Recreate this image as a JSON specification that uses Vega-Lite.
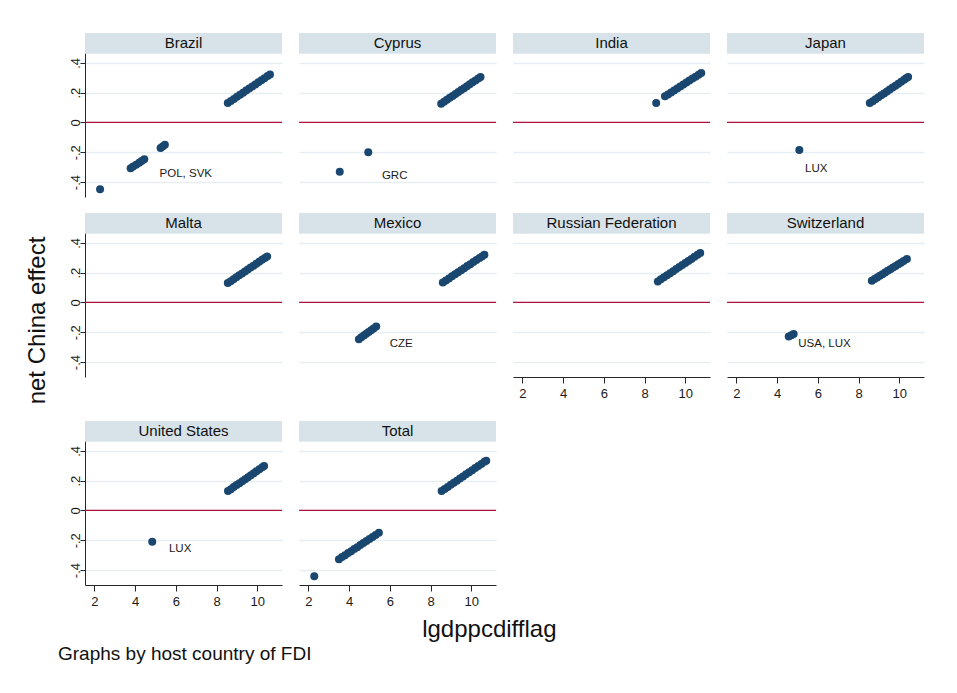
{
  "$schema": "https://vega.github.io/schema/vega-lite/v6.json",
  "background": "white",
  "padding": {"left": 25, "top": 33, "right": 5, "bottom": 5},
  "autosize": {"type": "pad"},
  "config": {
    "font": "Liberation Sans",
    "view": {"stroke": null},
    "concat": {"spacing": 15},
    "axis": {"labelFont": "Liberation Sans", "labelFontSize": 13, "labelColor": "#1a1a1a", "domainColor": "#262626", "tickColor": "#262626", "tickSize": 5},
    "axisX": {"tickSize": 6, "labelPadding": 4},
    "axisY": {"gridColor": "#e6eef1", "gridWidth": 1.5, "labelPadding": 1, "labelBaseline": "alphabetic"}
  },
  "title": {"text": "Graphs by host country of FDI", "orient": "bottom", "anchor": "start", "fontSize": 19, "font": "Liberation Sans", "fontWeight": "normal", "color": "#111111", "offset": 3, "dx": 32},
  "data": {"values": [
    {"c":"Brazil","k":"p","x":2.28,"y":-0.448},{"c":"Brazil","k":"p","x":3.78,"y":-0.307},{"c":"Brazil","k":"p","x":3.9,"y":-0.296},{"c":"Brazil","k":"p","x":4.05,"y":-0.283},{"c":"Brazil","k":"p","x":4.2,"y":-0.27},{"c":"Brazil","k":"p","x":4.32,"y":-0.258},{"c":"Brazil","k":"p","x":4.45,"y":-0.246},{"c":"Brazil","k":"p","x":5.25,"y":-0.172},{"c":"Brazil","k":"p","x":5.35,"y":-0.161},{"c":"Brazil","k":"p","x":5.46,"y":-0.15},
    {"c":"Brazil","k":"p","x":8.55,"y":0.13},{"c":"Brazil","k":"p","x":8.7,"y":0.144},{"c":"Brazil","k":"p","x":8.85,"y":0.158},{"c":"Brazil","k":"p","x":9.0,"y":0.172},{"c":"Brazil","k":"p","x":9.15,"y":0.186},{"c":"Brazil","k":"p","x":9.3,"y":0.2},{"c":"Brazil","k":"p","x":9.45,"y":0.214},{"c":"Brazil","k":"p","x":9.6,"y":0.228},{"c":"Brazil","k":"p","x":9.75,"y":0.241},{"c":"Brazil","k":"p","x":9.9,"y":0.255},{"c":"Brazil","k":"p","x":10.05,"y":0.269},{"c":"Brazil","k":"p","x":10.2,"y":0.283},{"c":"Brazil","k":"p","x":10.35,"y":0.297},{"c":"Brazil","k":"p","x":10.5,"y":0.311},{"c":"Brazil","k":"p","x":10.62,"y":0.322},
    {"c":"Brazil","k":"l","x":5.2,"y":-0.345,"t":"POL, SVK"},
    {"c":"Cyprus","k":"p","x":3.54,"y":-0.331},{"c":"Cyprus","k":"p","x":4.94,"y":-0.2},
    {"c":"Cyprus","k":"p","x":8.52,"y":0.126},{"c":"Cyprus","k":"p","x":8.66,"y":0.139},{"c":"Cyprus","k":"p","x":8.8,"y":0.152},{"c":"Cyprus","k":"p","x":8.94,"y":0.165},{"c":"Cyprus","k":"p","x":9.08,"y":0.178},{"c":"Cyprus","k":"p","x":9.22,"y":0.191},{"c":"Cyprus","k":"p","x":9.36,"y":0.204},{"c":"Cyprus","k":"p","x":9.5,"y":0.217},{"c":"Cyprus","k":"p","x":9.64,"y":0.23},{"c":"Cyprus","k":"p","x":9.78,"y":0.243},{"c":"Cyprus","k":"p","x":9.92,"y":0.256},{"c":"Cyprus","k":"p","x":10.06,"y":0.269},{"c":"Cyprus","k":"p","x":10.2,"y":0.282},{"c":"Cyprus","k":"p","x":10.34,"y":0.295},{"c":"Cyprus","k":"p","x":10.45,"y":0.305},
    {"c":"Cyprus","k":"l","x":5.61,"y":-0.36,"t":"GRC"},
    {"c":"India","k":"p","x":8.57,"y":0.13},
    {"c":"India","k":"p","x":9.0,"y":0.175},{"c":"India","k":"p","x":9.15,"y":0.188},{"c":"India","k":"p","x":9.3,"y":0.201},{"c":"India","k":"p","x":9.45,"y":0.215},{"c":"India","k":"p","x":9.6,"y":0.228},{"c":"India","k":"p","x":9.75,"y":0.241},{"c":"India","k":"p","x":9.9,"y":0.254},{"c":"India","k":"p","x":10.05,"y":0.268},{"c":"India","k":"p","x":10.2,"y":0.281},{"c":"India","k":"p","x":10.35,"y":0.294},{"c":"India","k":"p","x":10.5,"y":0.307},{"c":"India","k":"p","x":10.65,"y":0.32},{"c":"India","k":"p","x":10.78,"y":0.332},
    {"c":"Japan","k":"p","x":5.09,"y":-0.184},
    {"c":"Japan","k":"p","x":8.55,"y":0.13},{"c":"Japan","k":"p","x":8.69,"y":0.143},{"c":"Japan","k":"p","x":8.83,"y":0.156},{"c":"Japan","k":"p","x":8.97,"y":0.169},{"c":"Japan","k":"p","x":9.11,"y":0.182},{"c":"Japan","k":"p","x":9.25,"y":0.195},{"c":"Japan","k":"p","x":9.39,"y":0.208},{"c":"Japan","k":"p","x":9.53,"y":0.221},{"c":"Japan","k":"p","x":9.67,"y":0.234},{"c":"Japan","k":"p","x":9.81,"y":0.247},{"c":"Japan","k":"p","x":9.95,"y":0.26},{"c":"Japan","k":"p","x":10.09,"y":0.273},{"c":"Japan","k":"p","x":10.23,"y":0.286},{"c":"Japan","k":"p","x":10.33,"y":0.296},{"c":"Japan","k":"p","x":10.43,"y":0.305},
    {"c":"Japan","k":"l","x":5.37,"y":-0.311,"t":"LUX"},
    {"c":"Malta","k":"p","x":8.55,"y":0.13},{"c":"Malta","k":"p","x":8.69,"y":0.143},{"c":"Malta","k":"p","x":8.83,"y":0.156},{"c":"Malta","k":"p","x":8.97,"y":0.169},{"c":"Malta","k":"p","x":9.11,"y":0.182},{"c":"Malta","k":"p","x":9.25,"y":0.195},{"c":"Malta","k":"p","x":9.39,"y":0.208},{"c":"Malta","k":"p","x":9.53,"y":0.221},{"c":"Malta","k":"p","x":9.67,"y":0.234},{"c":"Malta","k":"p","x":9.81,"y":0.247},{"c":"Malta","k":"p","x":9.95,"y":0.26},{"c":"Malta","k":"p","x":10.09,"y":0.273},{"c":"Malta","k":"p","x":10.23,"y":0.286},{"c":"Malta","k":"p","x":10.37,"y":0.299},{"c":"Malta","k":"p","x":10.48,"y":0.309},
    {"c":"Mexico","k":"p","x":4.48,"y":-0.246},{"c":"Mexico","k":"p","x":4.6,"y":-0.234},{"c":"Mexico","k":"p","x":4.72,"y":-0.222},{"c":"Mexico","k":"p","x":4.84,"y":-0.21},{"c":"Mexico","k":"p","x":4.96,"y":-0.198},{"c":"Mexico","k":"p","x":5.08,"y":-0.186},{"c":"Mexico","k":"p","x":5.2,"y":-0.174},{"c":"Mexico","k":"p","x":5.33,"y":-0.161},
    {"c":"Mexico","k":"p","x":8.6,"y":0.134},{"c":"Mexico","k":"p","x":8.75,"y":0.148},{"c":"Mexico","k":"p","x":8.9,"y":0.161},{"c":"Mexico","k":"p","x":9.05,"y":0.175},{"c":"Mexico","k":"p","x":9.2,"y":0.189},{"c":"Mexico","k":"p","x":9.35,"y":0.203},{"c":"Mexico","k":"p","x":9.5,"y":0.216},{"c":"Mexico","k":"p","x":9.65,"y":0.23},{"c":"Mexico","k":"p","x":9.8,"y":0.244},{"c":"Mexico","k":"p","x":9.95,"y":0.257},{"c":"Mexico","k":"p","x":10.1,"y":0.271},{"c":"Mexico","k":"p","x":10.25,"y":0.284},{"c":"Mexico","k":"p","x":10.4,"y":0.298},{"c":"Mexico","k":"p","x":10.52,"y":0.309},{"c":"Mexico","k":"p","x":10.64,"y":0.32},
    {"c":"Mexico","k":"l","x":5.99,"y":-0.278,"t":"CZE"},
    {"c":"Russian Federation","k":"p","x":8.65,"y":0.141},{"c":"Russian Federation","k":"p","x":8.8,"y":0.155},{"c":"Russian Federation","k":"p","x":8.95,"y":0.169},{"c":"Russian Federation","k":"p","x":9.1,"y":0.182},{"c":"Russian Federation","k":"p","x":9.25,"y":0.196},{"c":"Russian Federation","k":"p","x":9.4,"y":0.21},{"c":"Russian Federation","k":"p","x":9.55,"y":0.224},{"c":"Russian Federation","k":"p","x":9.7,"y":0.237},{"c":"Russian Federation","k":"p","x":9.85,"y":0.251},{"c":"Russian Federation","k":"p","x":10.0,"y":0.265},{"c":"Russian Federation","k":"p","x":10.15,"y":0.278},{"c":"Russian Federation","k":"p","x":10.3,"y":0.292},{"c":"Russian Federation","k":"p","x":10.45,"y":0.306},{"c":"Russian Federation","k":"p","x":10.6,"y":0.32},{"c":"Russian Federation","k":"p","x":10.73,"y":0.332},
    {"c":"Switzerland","k":"p","x":4.57,"y":-0.229},{"c":"Switzerland","k":"p","x":4.7,"y":-0.22},{"c":"Switzerland","k":"p","x":4.81,"y":-0.211},
    {"c":"Switzerland","k":"p","x":8.65,"y":0.146},{"c":"Switzerland","k":"p","x":8.78,"y":0.157},{"c":"Switzerland","k":"p","x":8.91,"y":0.168},{"c":"Switzerland","k":"p","x":9.04,"y":0.179},{"c":"Switzerland","k":"p","x":9.17,"y":0.19},{"c":"Switzerland","k":"p","x":9.3,"y":0.201},{"c":"Switzerland","k":"p","x":9.43,"y":0.212},{"c":"Switzerland","k":"p","x":9.56,"y":0.223},{"c":"Switzerland","k":"p","x":9.69,"y":0.234},{"c":"Switzerland","k":"p","x":9.82,"y":0.245},{"c":"Switzerland","k":"p","x":9.95,"y":0.256},{"c":"Switzerland","k":"p","x":10.08,"y":0.267},{"c":"Switzerland","k":"p","x":10.21,"y":0.278},{"c":"Switzerland","k":"p","x":10.37,"y":0.292},
    {"c":"Switzerland","k":"l","x":5.04,"y":-0.28,"t":"USA, LUX"},
    {"c":"United States","k":"p","x":4.84,"y":-0.21},
    {"c":"United States","k":"p","x":8.56,"y":0.13},{"c":"United States","k":"p","x":8.7,"y":0.143},{"c":"United States","k":"p","x":8.84,"y":0.157},{"c":"United States","k":"p","x":8.98,"y":0.17},{"c":"United States","k":"p","x":9.12,"y":0.183},{"c":"United States","k":"p","x":9.26,"y":0.196},{"c":"United States","k":"p","x":9.4,"y":0.21},{"c":"United States","k":"p","x":9.54,"y":0.223},{"c":"United States","k":"p","x":9.68,"y":0.236},{"c":"United States","k":"p","x":9.82,"y":0.25},{"c":"United States","k":"p","x":9.96,"y":0.263},{"c":"United States","k":"p","x":10.1,"y":0.276},{"c":"United States","k":"p","x":10.24,"y":0.289},{"c":"United States","k":"p","x":10.33,"y":0.298},
    {"c":"United States","k":"l","x":5.66,"y":-0.26,"t":"LUX"},
    {"c":"Total","k":"p","x":2.29,"y":-0.441},
    {"c":"Total","k":"p","x":3.5,"y":-0.327},{"c":"Total","k":"p","x":3.65,"y":-0.313},{"c":"Total","k":"p","x":3.8,"y":-0.3},{"c":"Total","k":"p","x":3.95,"y":-0.286},{"c":"Total","k":"p","x":4.1,"y":-0.273},{"c":"Total","k":"p","x":4.25,"y":-0.259},{"c":"Total","k":"p","x":4.4,"y":-0.246},{"c":"Total","k":"p","x":4.55,"y":-0.232},{"c":"Total","k":"p","x":4.7,"y":-0.218},{"c":"Total","k":"p","x":4.85,"y":-0.205},{"c":"Total","k":"p","x":5.0,"y":-0.191},{"c":"Total","k":"p","x":5.15,"y":-0.178},{"c":"Total","k":"p","x":5.3,"y":-0.164},{"c":"Total","k":"p","x":5.46,"y":-0.15},
    {"c":"Total","k":"p","x":8.54,"y":0.13},{"c":"Total","k":"p","x":8.69,"y":0.144},{"c":"Total","k":"p","x":8.84,"y":0.158},{"c":"Total","k":"p","x":8.99,"y":0.172},{"c":"Total","k":"p","x":9.14,"y":0.186},{"c":"Total","k":"p","x":9.29,"y":0.2},{"c":"Total","k":"p","x":9.44,"y":0.214},{"c":"Total","k":"p","x":9.59,"y":0.228},{"c":"Total","k":"p","x":9.74,"y":0.242},{"c":"Total","k":"p","x":9.89,"y":0.256},{"c":"Total","k":"p","x":10.04,"y":0.27},{"c":"Total","k":"p","x":10.19,"y":0.284},{"c":"Total","k":"p","x":10.34,"y":0.298},{"c":"Total","k":"p","x":10.49,"y":0.312},{"c":"Total","k":"p","x":10.64,"y":0.326},{"c":"Total","k":"p","x":10.73,"y":0.334}
  ]},
  "vconcat": [{
    "title": {"text": "lgdppcdifflag", "orient": "bottom", "anchor": "middle", "fontSize": 24, "font": "Liberation Sans", "fontWeight": "normal", "color": "#111111", "offset": 10, "dx": 14},
    "vconcat": [{
      "title": {"text": "net China effect", "orient": "left", "anchor": "middle", "fontSize": 24, "font": "Liberation Sans", "fontWeight": "normal", "color": "#111111", "offset": 19},
      "spacing": 21,
      "vconcat": [
        {"spacing": 16, "vconcat": [
        {"spacing": 15, "hconcat": [
          {"width": 197, "height": 164, "transform": [{"filter": "datum.c == 'Brazil'"}],
           "layer": [
             {"transform": [{"aggregate": [{"op": "count", "as": "n"}], "groupby": ["c"]}], "mark": {"type": "rect", "fill": "#d7e3e9"}, "encoding": {"x": {"datum": 1.54, "type": "quantitative"}, "x2": {"datum": 11.21}, "y": {"datum": 0.46, "type": "quantitative"}, "y2": {"datum": 0.6}}},
             {"transform": [{"aggregate": [{"op": "count", "as": "n"}], "groupby": ["c"]}], "mark": {"type": "text", "fontSize": 15, "color": "#111111", "align": "center", "baseline": "middle"}, "encoding": {"x": {"datum": 6.375, "type": "quantitative"}, "y": {"datum": 0.53, "type": "quantitative"}, "text": {"field": "c", "type": "nominal"}}},
             {"transform": [{"aggregate": [{"op": "count", "as": "n"}], "groupby": ["c"]}], "mark": {"type": "rule", "color": "#b0123c", "strokeWidth": 1.3}, "encoding": {"y": {"datum": 0, "type": "quantitative"}}},
             {"transform": [{"filter": "datum.k == 'p'"}], "mark": {"type": "point", "filled": true, "opacity": 1, "size": 64, "color": "#1a476f"},
              "encoding": {
                "x": {"field": "x", "type": "quantitative", "scale": {"domain": [1.54, 11.21], "nice": false, "zero": false}, "axis": {"values": [2, 4, 6, 8, 10], "grid": false, "title": null, "labels": false, "ticks": false, "domain": false}},
                "y": {"field": "y", "type": "quantitative", "scale": {"domain": [-0.5, 0.6], "nice": false, "zero": false}, "axis": {"values": [-0.4, -0.2, 0, 0.2, 0.4], "grid": true, "title": null, "labelAngle": -90, "labelExpr": "datum.value == 0 ? '0' : (datum.value < 0 ? '-.' : '.') + round(abs(datum.value) * 10)"}}}},
             {"transform": [{"filter": "datum.k == 'l'"}], "mark": {"type": "text", "fontSize": 11.5, "color": "#1a1a1a", "align": "left", "baseline": "middle"}, "encoding": {"x": {"field": "x", "type": "quantitative"}, "y": {"field": "y", "type": "quantitative"}, "text": {"field": "t", "type": "nominal"}}}
           ]},
          {"width": 197, "height": 164, "transform": [{"filter": "datum.c == 'Cyprus'"}],
           "layer": [
             {"transform": [{"aggregate": [{"op": "count", "as": "n"}], "groupby": ["c"]}], "mark": {"type": "rect", "fill": "#d7e3e9"}, "encoding": {"x": {"datum": 1.54, "type": "quantitative"}, "x2": {"datum": 11.21}, "y": {"datum": 0.46, "type": "quantitative"}, "y2": {"datum": 0.6}}},
             {"transform": [{"aggregate": [{"op": "count", "as": "n"}], "groupby": ["c"]}], "mark": {"type": "text", "fontSize": 15, "color": "#111111", "align": "center", "baseline": "middle"}, "encoding": {"x": {"datum": 6.375, "type": "quantitative"}, "y": {"datum": 0.53, "type": "quantitative"}, "text": {"field": "c", "type": "nominal"}}},
             {"transform": [{"aggregate": [{"op": "count", "as": "n"}], "groupby": ["c"]}], "mark": {"type": "rule", "color": "#b0123c", "strokeWidth": 1.3}, "encoding": {"y": {"datum": 0, "type": "quantitative"}}},
             {"transform": [{"filter": "datum.k == 'p'"}], "mark": {"type": "point", "filled": true, "opacity": 1, "size": 64, "color": "#1a476f"},
              "encoding": {
                "x": {"field": "x", "type": "quantitative", "scale": {"domain": [1.54, 11.21], "nice": false, "zero": false}, "axis": {"values": [2, 4, 6, 8, 10], "grid": false, "title": null, "labels": false, "ticks": false, "domain": false}},
                "y": {"field": "y", "type": "quantitative", "scale": {"domain": [-0.5, 0.6], "nice": false, "zero": false}, "axis": {"values": [-0.4, -0.2, 0, 0.2, 0.4], "grid": true, "title": null, "labels": false, "ticks": false, "domain": false}}}},
             {"transform": [{"filter": "datum.k == 'l'"}], "mark": {"type": "text", "fontSize": 11.5, "color": "#1a1a1a", "align": "left", "baseline": "middle"}, "encoding": {"x": {"field": "x", "type": "quantitative"}, "y": {"field": "y", "type": "quantitative"}, "text": {"field": "t", "type": "nominal"}}}
           ]},
          {"width": 197, "height": 164, "transform": [{"filter": "datum.c == 'India'"}],
           "layer": [
             {"transform": [{"aggregate": [{"op": "count", "as": "n"}], "groupby": ["c"]}], "mark": {"type": "rect", "fill": "#d7e3e9"}, "encoding": {"x": {"datum": 1.54, "type": "quantitative"}, "x2": {"datum": 11.21}, "y": {"datum": 0.46, "type": "quantitative"}, "y2": {"datum": 0.6}}},
             {"transform": [{"aggregate": [{"op": "count", "as": "n"}], "groupby": ["c"]}], "mark": {"type": "text", "fontSize": 15, "color": "#111111", "align": "center", "baseline": "middle"}, "encoding": {"x": {"datum": 6.375, "type": "quantitative"}, "y": {"datum": 0.53, "type": "quantitative"}, "text": {"field": "c", "type": "nominal"}}},
             {"transform": [{"aggregate": [{"op": "count", "as": "n"}], "groupby": ["c"]}], "mark": {"type": "rule", "color": "#b0123c", "strokeWidth": 1.3}, "encoding": {"y": {"datum": 0, "type": "quantitative"}}},
             {"transform": [{"filter": "datum.k == 'p'"}], "mark": {"type": "point", "filled": true, "opacity": 1, "size": 64, "color": "#1a476f"},
              "encoding": {
                "x": {"field": "x", "type": "quantitative", "scale": {"domain": [1.54, 11.21], "nice": false, "zero": false}, "axis": {"values": [2, 4, 6, 8, 10], "grid": false, "title": null, "labels": false, "ticks": false, "domain": false}},
                "y": {"field": "y", "type": "quantitative", "scale": {"domain": [-0.5, 0.6], "nice": false, "zero": false}, "axis": {"values": [-0.4, -0.2, 0, 0.2, 0.4], "grid": true, "title": null, "labels": false, "ticks": false, "domain": false}}}},
             {"transform": [{"filter": "datum.k == 'l'"}], "mark": {"type": "text", "fontSize": 11.5, "color": "#1a1a1a", "align": "left", "baseline": "middle"}, "encoding": {"x": {"field": "x", "type": "quantitative"}, "y": {"field": "y", "type": "quantitative"}, "text": {"field": "t", "type": "nominal"}}}
           ]},
          {"width": 197, "height": 164, "transform": [{"filter": "datum.c == 'Japan'"}],
           "layer": [
             {"transform": [{"aggregate": [{"op": "count", "as": "n"}], "groupby": ["c"]}], "mark": {"type": "rect", "fill": "#d7e3e9"}, "encoding": {"x": {"datum": 1.54, "type": "quantitative"}, "x2": {"datum": 11.21}, "y": {"datum": 0.46, "type": "quantitative"}, "y2": {"datum": 0.6}}},
             {"transform": [{"aggregate": [{"op": "count", "as": "n"}], "groupby": ["c"]}], "mark": {"type": "text", "fontSize": 15, "color": "#111111", "align": "center", "baseline": "middle"}, "encoding": {"x": {"datum": 6.375, "type": "quantitative"}, "y": {"datum": 0.53, "type": "quantitative"}, "text": {"field": "c", "type": "nominal"}}},
             {"transform": [{"aggregate": [{"op": "count", "as": "n"}], "groupby": ["c"]}], "mark": {"type": "rule", "color": "#b0123c", "strokeWidth": 1.3}, "encoding": {"y": {"datum": 0, "type": "quantitative"}}},
             {"transform": [{"filter": "datum.k == 'p'"}], "mark": {"type": "point", "filled": true, "opacity": 1, "size": 64, "color": "#1a476f"},
              "encoding": {
                "x": {"field": "x", "type": "quantitative", "scale": {"domain": [1.54, 11.21], "nice": false, "zero": false}, "axis": {"values": [2, 4, 6, 8, 10], "grid": false, "title": null, "labels": false, "ticks": false, "domain": false}},
                "y": {"field": "y", "type": "quantitative", "scale": {"domain": [-0.5, 0.6], "nice": false, "zero": false}, "axis": {"values": [-0.4, -0.2, 0, 0.2, 0.4], "grid": true, "title": null, "labels": false, "ticks": false, "domain": false}}}},
             {"transform": [{"filter": "datum.k == 'l'"}], "mark": {"type": "text", "fontSize": 11.5, "color": "#1a1a1a", "align": "left", "baseline": "middle"}, "encoding": {"x": {"field": "x", "type": "quantitative"}, "y": {"field": "y", "type": "quantitative"}, "text": {"field": "t", "type": "nominal"}}}
           ]}
        ]},
        {"spacing": 15, "hconcat": [
          {"width": 197, "height": 164, "transform": [{"filter": "datum.c == 'Malta'"}],
           "layer": [
             {"transform": [{"aggregate": [{"op": "count", "as": "n"}], "groupby": ["c"]}], "mark": {"type": "rect", "fill": "#d7e3e9"}, "encoding": {"x": {"datum": 1.54, "type": "quantitative"}, "x2": {"datum": 11.21}, "y": {"datum": 0.46, "type": "quantitative"}, "y2": {"datum": 0.6}}},
             {"transform": [{"aggregate": [{"op": "count", "as": "n"}], "groupby": ["c"]}], "mark": {"type": "text", "fontSize": 15, "color": "#111111", "align": "center", "baseline": "middle"}, "encoding": {"x": {"datum": 6.375, "type": "quantitative"}, "y": {"datum": 0.53, "type": "quantitative"}, "text": {"field": "c", "type": "nominal"}}},
             {"transform": [{"aggregate": [{"op": "count", "as": "n"}], "groupby": ["c"]}], "mark": {"type": "rule", "color": "#b0123c", "strokeWidth": 1.3}, "encoding": {"y": {"datum": 0, "type": "quantitative"}}},
             {"transform": [{"filter": "datum.k == 'p'"}], "mark": {"type": "point", "filled": true, "opacity": 1, "size": 64, "color": "#1a476f"},
              "encoding": {
                "x": {"field": "x", "type": "quantitative", "scale": {"domain": [1.54, 11.21], "nice": false, "zero": false}, "axis": {"values": [2, 4, 6, 8, 10], "grid": false, "title": null, "labels": false, "ticks": false, "domain": false}},
                "y": {"field": "y", "type": "quantitative", "scale": {"domain": [-0.5, 0.6], "nice": false, "zero": false}, "axis": {"values": [-0.4, -0.2, 0, 0.2, 0.4], "grid": true, "title": null, "labelAngle": -90, "labelExpr": "datum.value == 0 ? '0' : (datum.value < 0 ? '-.' : '.') + round(abs(datum.value) * 10)"}}}},
             {"transform": [{"filter": "datum.k == 'l'"}], "mark": {"type": "text", "fontSize": 11.5, "color": "#1a1a1a", "align": "left", "baseline": "middle"}, "encoding": {"x": {"field": "x", "type": "quantitative"}, "y": {"field": "y", "type": "quantitative"}, "text": {"field": "t", "type": "nominal"}}}
           ]},
          {"width": 197, "height": 164, "transform": [{"filter": "datum.c == 'Mexico'"}],
           "layer": [
             {"transform": [{"aggregate": [{"op": "count", "as": "n"}], "groupby": ["c"]}], "mark": {"type": "rect", "fill": "#d7e3e9"}, "encoding": {"x": {"datum": 1.54, "type": "quantitative"}, "x2": {"datum": 11.21}, "y": {"datum": 0.46, "type": "quantitative"}, "y2": {"datum": 0.6}}},
             {"transform": [{"aggregate": [{"op": "count", "as": "n"}], "groupby": ["c"]}], "mark": {"type": "text", "fontSize": 15, "color": "#111111", "align": "center", "baseline": "middle"}, "encoding": {"x": {"datum": 6.375, "type": "quantitative"}, "y": {"datum": 0.53, "type": "quantitative"}, "text": {"field": "c", "type": "nominal"}}},
             {"transform": [{"aggregate": [{"op": "count", "as": "n"}], "groupby": ["c"]}], "mark": {"type": "rule", "color": "#b0123c", "strokeWidth": 1.3}, "encoding": {"y": {"datum": 0, "type": "quantitative"}}},
             {"transform": [{"filter": "datum.k == 'p'"}], "mark": {"type": "point", "filled": true, "opacity": 1, "size": 64, "color": "#1a476f"},
              "encoding": {
                "x": {"field": "x", "type": "quantitative", "scale": {"domain": [1.54, 11.21], "nice": false, "zero": false}, "axis": {"values": [2, 4, 6, 8, 10], "grid": false, "title": null, "labels": false, "ticks": false, "domain": false}},
                "y": {"field": "y", "type": "quantitative", "scale": {"domain": [-0.5, 0.6], "nice": false, "zero": false}, "axis": {"values": [-0.4, -0.2, 0, 0.2, 0.4], "grid": true, "title": null, "labels": false, "ticks": false, "domain": false}}}},
             {"transform": [{"filter": "datum.k == 'l'"}], "mark": {"type": "text", "fontSize": 11.5, "color": "#1a1a1a", "align": "left", "baseline": "middle"}, "encoding": {"x": {"field": "x", "type": "quantitative"}, "y": {"field": "y", "type": "quantitative"}, "text": {"field": "t", "type": "nominal"}}}
           ]},
          {"width": 197, "height": 164, "transform": [{"filter": "datum.c == 'Russian Federation'"}],
           "layer": [
             {"transform": [{"aggregate": [{"op": "count", "as": "n"}], "groupby": ["c"]}], "mark": {"type": "rect", "fill": "#d7e3e9"}, "encoding": {"x": {"datum": 1.54, "type": "quantitative"}, "x2": {"datum": 11.21}, "y": {"datum": 0.46, "type": "quantitative"}, "y2": {"datum": 0.6}}},
             {"transform": [{"aggregate": [{"op": "count", "as": "n"}], "groupby": ["c"]}], "mark": {"type": "text", "fontSize": 15, "color": "#111111", "align": "center", "baseline": "middle"}, "encoding": {"x": {"datum": 6.375, "type": "quantitative"}, "y": {"datum": 0.53, "type": "quantitative"}, "text": {"field": "c", "type": "nominal"}}},
             {"transform": [{"aggregate": [{"op": "count", "as": "n"}], "groupby": ["c"]}], "mark": {"type": "rule", "color": "#b0123c", "strokeWidth": 1.3}, "encoding": {"y": {"datum": 0, "type": "quantitative"}}},
             {"transform": [{"filter": "datum.k == 'p'"}], "mark": {"type": "point", "filled": true, "opacity": 1, "size": 64, "color": "#1a476f"},
              "encoding": {
                "x": {"field": "x", "type": "quantitative", "scale": {"domain": [1.54, 11.21], "nice": false, "zero": false}, "axis": {"values": [2, 4, 6, 8, 10], "grid": false, "title": null, "labelFlush": false}},
                "y": {"field": "y", "type": "quantitative", "scale": {"domain": [-0.5, 0.6], "nice": false, "zero": false}, "axis": {"values": [-0.4, -0.2, 0, 0.2, 0.4], "grid": true, "title": null, "labels": false, "ticks": false, "domain": false}}}},
             {"transform": [{"filter": "datum.k == 'l'"}], "mark": {"type": "text", "fontSize": 11.5, "color": "#1a1a1a", "align": "left", "baseline": "middle"}, "encoding": {"x": {"field": "x", "type": "quantitative"}, "y": {"field": "y", "type": "quantitative"}, "text": {"field": "t", "type": "nominal"}}}
           ]},
          {"width": 197, "height": 164, "transform": [{"filter": "datum.c == 'Switzerland'"}],
           "layer": [
             {"transform": [{"aggregate": [{"op": "count", "as": "n"}], "groupby": ["c"]}], "mark": {"type": "rect", "fill": "#d7e3e9"}, "encoding": {"x": {"datum": 1.54, "type": "quantitative"}, "x2": {"datum": 11.21}, "y": {"datum": 0.46, "type": "quantitative"}, "y2": {"datum": 0.6}}},
             {"transform": [{"aggregate": [{"op": "count", "as": "n"}], "groupby": ["c"]}], "mark": {"type": "text", "fontSize": 15, "color": "#111111", "align": "center", "baseline": "middle"}, "encoding": {"x": {"datum": 6.375, "type": "quantitative"}, "y": {"datum": 0.53, "type": "quantitative"}, "text": {"field": "c", "type": "nominal"}}},
             {"transform": [{"aggregate": [{"op": "count", "as": "n"}], "groupby": ["c"]}], "mark": {"type": "rule", "color": "#b0123c", "strokeWidth": 1.3}, "encoding": {"y": {"datum": 0, "type": "quantitative"}}},
             {"transform": [{"filter": "datum.k == 'p'"}], "mark": {"type": "point", "filled": true, "opacity": 1, "size": 64, "color": "#1a476f"},
              "encoding": {
                "x": {"field": "x", "type": "quantitative", "scale": {"domain": [1.54, 11.21], "nice": false, "zero": false}, "axis": {"values": [2, 4, 6, 8, 10], "grid": false, "title": null, "labelFlush": false}},
                "y": {"field": "y", "type": "quantitative", "scale": {"domain": [-0.5, 0.6], "nice": false, "zero": false}, "axis": {"values": [-0.4, -0.2, 0, 0.2, 0.4], "grid": true, "title": null, "labels": false, "ticks": false, "domain": false}}}},
             {"transform": [{"filter": "datum.k == 'l'"}], "mark": {"type": "text", "fontSize": 11.5, "color": "#1a1a1a", "align": "left", "baseline": "middle"}, "encoding": {"x": {"field": "x", "type": "quantitative"}, "y": {"field": "y", "type": "quantitative"}, "text": {"field": "t", "type": "nominal"}}}
           ]}
        ]}
        ]},
        {"spacing": 15, "hconcat": [
          {"width": 197, "height": 164, "transform": [{"filter": "datum.c == 'United States'"}],
           "layer": [
             {"transform": [{"aggregate": [{"op": "count", "as": "n"}], "groupby": ["c"]}], "mark": {"type": "rect", "fill": "#d7e3e9"}, "encoding": {"x": {"datum": 1.54, "type": "quantitative"}, "x2": {"datum": 11.21}, "y": {"datum": 0.46, "type": "quantitative"}, "y2": {"datum": 0.6}}},
             {"transform": [{"aggregate": [{"op": "count", "as": "n"}], "groupby": ["c"]}], "mark": {"type": "text", "fontSize": 15, "color": "#111111", "align": "center", "baseline": "middle"}, "encoding": {"x": {"datum": 6.375, "type": "quantitative"}, "y": {"datum": 0.53, "type": "quantitative"}, "text": {"field": "c", "type": "nominal"}}},
             {"transform": [{"aggregate": [{"op": "count", "as": "n"}], "groupby": ["c"]}], "mark": {"type": "rule", "color": "#b0123c", "strokeWidth": 1.3}, "encoding": {"y": {"datum": 0, "type": "quantitative"}}},
             {"transform": [{"filter": "datum.k == 'p'"}], "mark": {"type": "point", "filled": true, "opacity": 1, "size": 64, "color": "#1a476f"},
              "encoding": {
                "x": {"field": "x", "type": "quantitative", "scale": {"domain": [1.54, 11.21], "nice": false, "zero": false}, "axis": {"values": [2, 4, 6, 8, 10], "grid": false, "title": null, "labelFlush": false}},
                "y": {"field": "y", "type": "quantitative", "scale": {"domain": [-0.5, 0.6], "nice": false, "zero": false}, "axis": {"values": [-0.4, -0.2, 0, 0.2, 0.4], "grid": true, "title": null, "labelAngle": -90, "labelExpr": "datum.value == 0 ? '0' : (datum.value < 0 ? '-.' : '.') + round(abs(datum.value) * 10)"}}}},
             {"transform": [{"filter": "datum.k == 'l'"}], "mark": {"type": "text", "fontSize": 11.5, "color": "#1a1a1a", "align": "left", "baseline": "middle"}, "encoding": {"x": {"field": "x", "type": "quantitative"}, "y": {"field": "y", "type": "quantitative"}, "text": {"field": "t", "type": "nominal"}}}
           ]},
          {"width": 197, "height": 164, "transform": [{"filter": "datum.c == 'Total'"}],
           "layer": [
             {"transform": [{"aggregate": [{"op": "count", "as": "n"}], "groupby": ["c"]}], "mark": {"type": "rect", "fill": "#d7e3e9"}, "encoding": {"x": {"datum": 1.54, "type": "quantitative"}, "x2": {"datum": 11.21}, "y": {"datum": 0.46, "type": "quantitative"}, "y2": {"datum": 0.6}}},
             {"transform": [{"aggregate": [{"op": "count", "as": "n"}], "groupby": ["c"]}], "mark": {"type": "text", "fontSize": 15, "color": "#111111", "align": "center", "baseline": "middle"}, "encoding": {"x": {"datum": 6.375, "type": "quantitative"}, "y": {"datum": 0.53, "type": "quantitative"}, "text": {"field": "c", "type": "nominal"}}},
             {"transform": [{"aggregate": [{"op": "count", "as": "n"}], "groupby": ["c"]}], "mark": {"type": "rule", "color": "#b0123c", "strokeWidth": 1.3}, "encoding": {"y": {"datum": 0, "type": "quantitative"}}},
             {"transform": [{"filter": "datum.k == 'p'"}], "mark": {"type": "point", "filled": true, "opacity": 1, "size": 64, "color": "#1a476f"},
              "encoding": {
                "x": {"field": "x", "type": "quantitative", "scale": {"domain": [1.54, 11.21], "nice": false, "zero": false}, "axis": {"values": [2, 4, 6, 8, 10], "grid": false, "title": null, "labelFlush": false}},
                "y": {"field": "y", "type": "quantitative", "scale": {"domain": [-0.5, 0.6], "nice": false, "zero": false}, "axis": {"values": [-0.4, -0.2, 0, 0.2, 0.4], "grid": true, "title": null, "labels": false, "ticks": false, "domain": false}}}},
             {"transform": [{"filter": "datum.k == 'l'"}], "mark": {"type": "text", "fontSize": 11.5, "color": "#1a1a1a", "align": "left", "baseline": "middle"}, "encoding": {"x": {"field": "x", "type": "quantitative"}, "y": {"field": "y", "type": "quantitative"}, "text": {"field": "t", "type": "nominal"}}}
           ]}
        ]}
      ]
    }]
  }]
}
